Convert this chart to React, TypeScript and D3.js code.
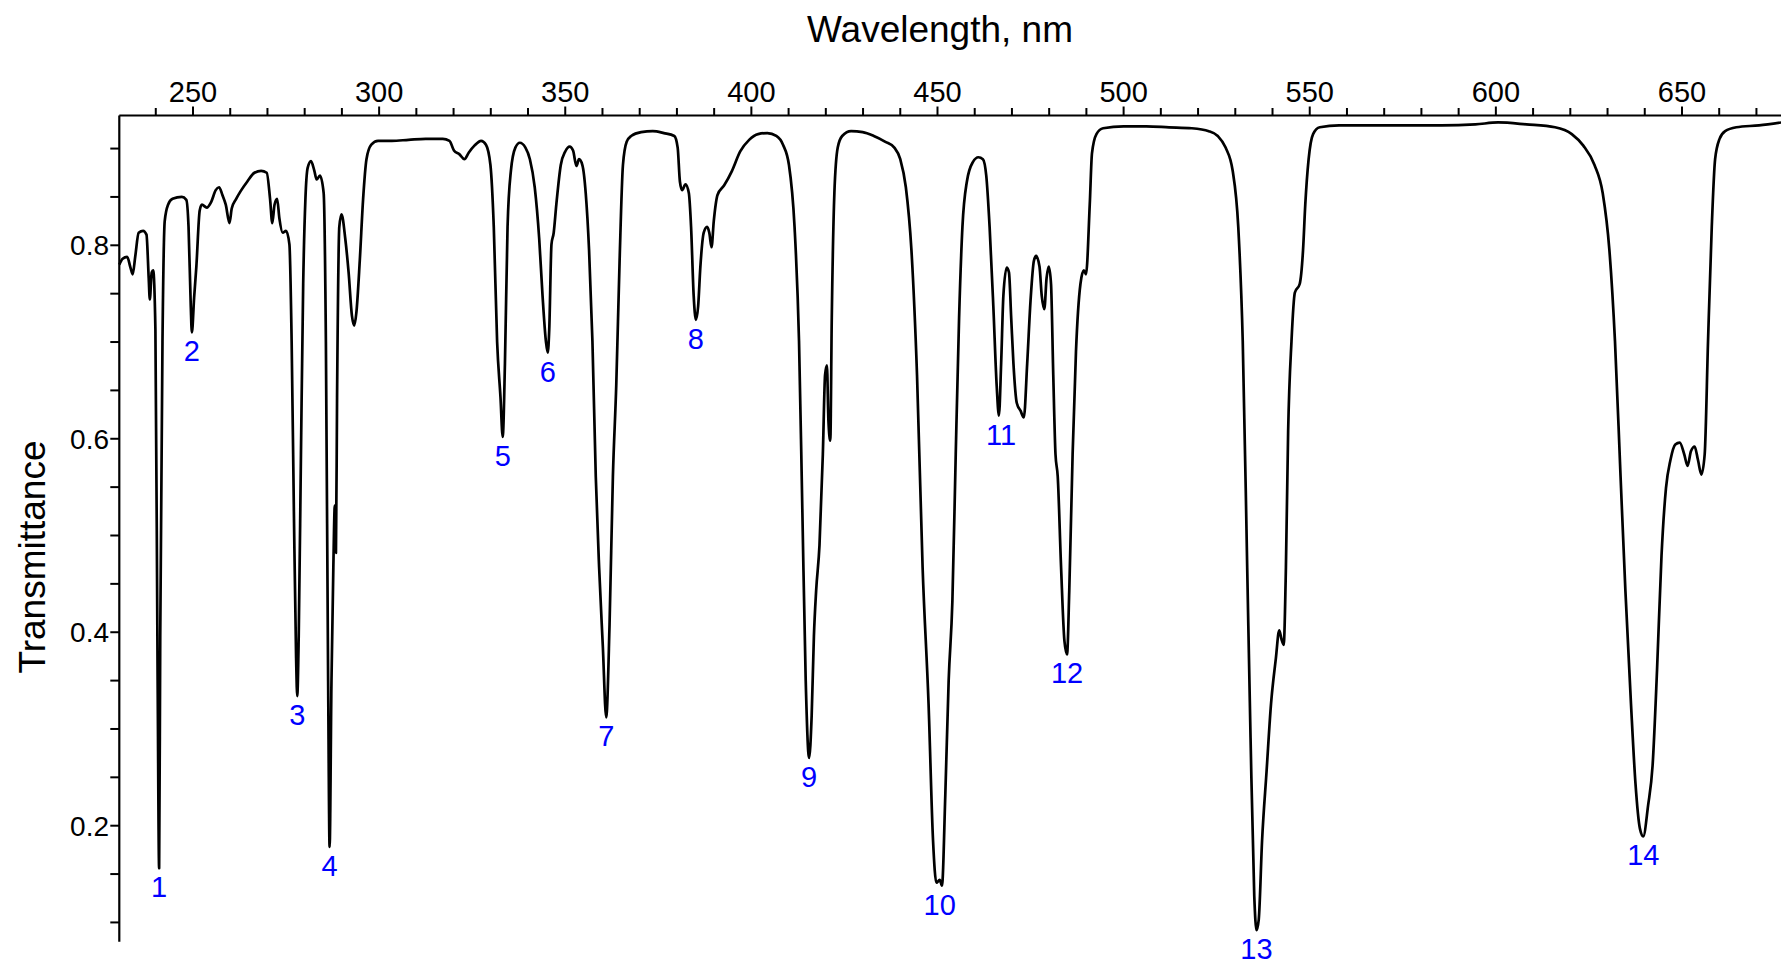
import React from "react";
import * as d3 from "d3";

const wavelength: number[] = [
  230.2, 231.1, 232.3, 233.2, 233.8, 234.5, 235.4, 236.6, 237.5, 238.1, 238.4, 238.9, 239.3, 239.9, 240.5, 240.9, 241.2, 241.8, 242.4, 243.3,
  244.5, 247.0, 248.2, 248.8, 249.4, 249.7, 250.3, 250.9, 251.8, 252.4, 253.7, 254.9, 256.1, 257.0, 257.9, 258.8, 259.8, 260.4, 261.6, 262.8,
  264.6, 266.5, 268.3, 269.8, 270.7, 271.3, 271.9, 272.6, 273.2, 274.1, 275.0, 275.9, 276.5, 277.1, 277.7, 278.0, 278.4, 279.0, 279.6, 280.2,
  280.8, 281.7, 282.6, 283.2, 284.1, 285.1, 285.7, 286.3, 286.7, 287.2, 287.7, 288.1, 288.4, 288.7, 289.3, 289.9, 290.9, 291.8, 292.7, 293.3,
  293.9, 294.8, 295.7, 296.6, 297.9, 299.7, 303.4, 307.9, 312.5, 317.1, 318.9, 320.1, 321.6, 322.9, 324.1, 325.6, 327.4, 328.7, 329.9, 330.8,
  331.7, 332.6, 333.2, 333.8, 334.5, 335.4, 336.6, 337.8, 339.3, 340.5, 341.8, 343.0, 343.9, 344.8, 345.3, 345.7, 346.3, 346.9, 347.6, 348.8,
  350.0, 351.2, 352.1, 353.0, 353.7, 354.6, 355.5, 356.4, 357.3, 358.2, 359.1, 360.1, 361.0, 361.9, 362.8, 363.7, 364.6, 365.5, 366.5, 367.7,
  370.4, 373.5, 376.5, 379.3, 380.2, 380.8, 381.4, 382.3, 383.2, 383.8, 384.5, 385.1, 385.7, 386.3, 387.2, 388.1, 388.7, 389.3, 389.9, 390.9,
  392.7, 394.8, 397.0, 399.4, 401.8, 404.3, 406.7, 408.5, 410.1, 411.6, 412.8, 413.7, 414.6, 415.5, 416.2, 416.8, 417.4, 418.3, 419.2, 419.8,
  420.3, 420.7, 421.2, 421.6, 422.3, 423.2, 424.4, 426.8, 429.9, 432.9, 436.0, 438.4, 440.0, 441.5, 443.0, 444.5, 446.0, 447.6, 448.8, 449.7,
  450.6, 451.2, 452.1, 453.0, 454.0, 454.9, 455.8, 456.7, 457.9, 459.5, 461.0, 462.2, 463.1, 464.0, 465.0, 465.9, 466.5, 467.1, 467.7, 468.6,
  469.2, 469.8, 470.4, 471.3, 472.3, 473.2, 474.1, 475.0, 475.9, 476.5, 477.4, 478.0, 478.7, 479.3, 479.9, 480.5, 481.1, 481.7, 482.3, 483.2,
  484.1, 484.8, 485.4, 486.3, 487.2, 488.4, 489.3, 489.9, 490.9, 491.5, 492.7, 494.5, 500.0, 506.1, 512.2, 518.3, 522.9, 525.3, 527.4, 529.3,
  530.8, 532.0, 533.2, 534.1, 535.1, 535.7, 536.3, 537.2, 538.4, 539.6, 540.9, 541.8, 542.4, 543.0, 543.6, 544.2, 545.1, 546.0, 547.3, 548.2,
  548.8, 549.7, 550.9, 552.7, 557.9, 567.1, 576.2, 585.4, 594.5, 600.6, 608.2, 615.9, 620.4, 623.5, 626.5, 628.7, 630.5, 632.0, 633.5, 634.8,
  636.3, 637.5, 638.7, 639.6, 640.9, 642.1, 643.3, 644.5, 645.7, 646.9, 648.2, 649.4, 650.6, 651.5, 652.4, 653.4, 654.3, 655.2, 656.1, 657.0,
  658.0, 658.9, 660.1, 661.6, 664.6, 670.7, 676.6,
];

const transmittance: number[] = [
  0.780, 0.786, 0.788, 0.777, 0.770, 0.789, 0.813, 0.815, 0.811, 0.766, 0.744, 0.772, 0.774, 0.713, 0.350, 0.156, 0.397, 0.700, 0.825, 0.842,
  0.848, 0.850, 0.847, 0.819, 0.737, 0.710, 0.746, 0.778, 0.836, 0.842, 0.839, 0.845, 0.857, 0.860, 0.852, 0.842, 0.823, 0.838, 0.848, 0.856,
  0.866, 0.875, 0.877, 0.875, 0.848, 0.823, 0.842, 0.848, 0.828, 0.813, 0.815, 0.801, 0.700, 0.525, 0.373, 0.334, 0.396, 0.584, 0.760, 0.848,
  0.880, 0.887, 0.877, 0.868, 0.872, 0.854, 0.700, 0.350, 0.178, 0.350, 0.467, 0.531, 0.482, 0.643, 0.819, 0.832, 0.807, 0.772, 0.727, 0.717,
  0.731, 0.784, 0.848, 0.889, 0.904, 0.908, 0.908, 0.909, 0.910, 0.910, 0.908, 0.898, 0.894, 0.889, 0.896, 0.903, 0.908, 0.904, 0.883, 0.819,
  0.700, 0.643, 0.602, 0.678, 0.819, 0.877, 0.901, 0.906, 0.901, 0.889, 0.860, 0.807, 0.748, 0.701, 0.689, 0.713, 0.801, 0.813, 0.842, 0.883,
  0.897, 0.902, 0.898, 0.882, 0.889, 0.883, 0.854, 0.795, 0.701, 0.561, 0.467, 0.385, 0.312, 0.408, 0.561, 0.655, 0.784, 0.883, 0.907, 0.913,
  0.917, 0.918, 0.916, 0.913, 0.901, 0.866, 0.857, 0.863, 0.854, 0.819, 0.748, 0.723, 0.737, 0.778, 0.813, 0.819, 0.813, 0.798, 0.825, 0.852,
  0.862, 0.877, 0.897, 0.909, 0.915, 0.916, 0.913, 0.904, 0.883, 0.819, 0.701, 0.525, 0.350, 0.270, 0.314, 0.396, 0.443, 0.490, 0.584, 0.666,
  0.676, 0.619, 0.598, 0.725, 0.854, 0.901, 0.913, 0.918, 0.917, 0.913, 0.907, 0.901, 0.889, 0.860, 0.795, 0.666, 0.467, 0.326, 0.185, 0.141,
  0.144, 0.138, 0.232, 0.350, 0.432, 0.584, 0.725, 0.819, 0.866, 0.886, 0.891, 0.889, 0.872, 0.819, 0.737, 0.655, 0.624, 0.678, 0.748, 0.777,
  0.772, 0.725, 0.678, 0.637, 0.629, 0.622, 0.678, 0.743, 0.784, 0.789, 0.778, 0.748, 0.734, 0.766, 0.778, 0.760, 0.666, 0.584, 0.561, 0.467,
  0.391, 0.377, 0.443, 0.584, 0.690, 0.760, 0.774, 0.770, 0.842, 0.895, 0.915, 0.921, 0.923, 0.923, 0.922, 0.921, 0.918, 0.913, 0.901, 0.877,
  0.819, 0.701, 0.467, 0.291, 0.127, 0.092, 0.103, 0.185, 0.256, 0.326, 0.373, 0.402, 0.393, 0.387, 0.467, 0.608, 0.701, 0.751, 0.760, 0.795,
  0.842, 0.889, 0.915, 0.922, 0.924, 0.924, 0.924, 0.924, 0.925, 0.927, 0.925, 0.922, 0.915, 0.903, 0.883, 0.854, 0.795, 0.701, 0.561, 0.443,
  0.326, 0.244, 0.197, 0.189, 0.221, 0.262, 0.361, 0.479, 0.549, 0.578, 0.594, 0.596, 0.584, 0.572, 0.587, 0.592, 0.578, 0.563, 0.584, 0.701,
  0.819, 0.889, 0.910, 0.918, 0.922, 0.924, 0.927,
];

const peakLabels: string[] = ["1", "2", "3", "4", "5", "6", "7", "8", "9", "10", "11", "12", "13", "14"];
const peakWavelength: number[] = [240.9, 249.7, 278.0, 286.7, 333.2, 345.3, 361.0, 385.1, 415.5, 450.6, 467.1, 484.8, 535.7, 639.6];
const peakTransmittance: number[] = [0.156, 0.710, 0.334, 0.178, 0.602, 0.689, 0.312, 0.723, 0.270, 0.138, 0.624, 0.377, 0.092, 0.189];

const xMajorTicks: number[] = [250, 300, 350, 400, 450, 500, 550, 600, 650];
const yMajorTicks: number[] = [0.2, 0.4, 0.6, 0.8];

const W = 1781;
const H = 965;
const FONT = "'Liberation Sans', Arial, Helvetica, sans-serif";

export default function App() {
  const left = 119.3;
  const top = 115.5;
  const x = d3.scaleLinear().domain([230.2, 676.6]).range([left, W]);
  const y = d3.scaleLinear().domain([0.2, 0.8]).range([825.7, 245.3]);
  const yBottom = 0.08;

  const pts: [number, number][] = wavelength.map((w, i) => [w, transmittance[i]]);
  const line = d3
    .line<[number, number]>()
    .x((d) => x(d[0]))
    .y((d) => y(d[1]))
    .curve(d3.curveMonotoneX);

  const xMinor = d3.range(240, 680, 10).filter((v) => v % 50 !== 0 && x(v) <= W);
  const yMinor = d3
    .range(0.1, 0.95, 0.05)
    .map((v) => +v.toFixed(2))
    .filter((v) => !yMajorTicks.some((m) => Math.abs(m - v) < 1e-6));

  return (
    <svg
      width={W}
      height={H}
      style={{ position: "absolute", left: 0, top: 0, background: "#fff" }}
      fontFamily={FONT}
    >
      <rect x={0} y={0} width={W} height={H} fill="#fff" />
      <text x={940} y={42} fontSize={37} textAnchor="middle" fill="#000">
        Wavelength, nm
      </text>
      <text transform={`translate(45, 557) rotate(-90)`} fontSize={37} textAnchor="middle" fill="#000">
        Transmittance
      </text>

      {/* top axis */}
      <line x1={left} x2={W} y1={top} y2={top} stroke="#000" strokeWidth={2.2} />
      {xMajorTicks.map((t) => (
        <g key={"xm" + t}>
          <line x1={x(t)} x2={x(t)} y1={top} y2={top - 9} stroke="#000" strokeWidth={2} />
          <text x={x(t)} y={101.5} fontSize={29} textAnchor="middle" fill="#000">
            {t}
          </text>
        </g>
      ))}
      {xMinor.map((t) => (
        <line key={"xn" + t} x1={x(t)} x2={x(t)} y1={top} y2={top - 7.5} stroke="#000" strokeWidth={2} />
      ))}

      {/* left axis */}
      <line x1={left} x2={left} y1={top} y2={y(yBottom)} stroke="#000" strokeWidth={2.2} />
      {yMajorTicks.map((t) => (
        <g key={"ym" + t}>
          <line x1={left} x2={left - 9} y1={y(t)} y2={y(t)} stroke="#000" strokeWidth={2} />
          <text x={109} y={y(t) + 10} fontSize={28} textAnchor="end" fill="#000">
            {t.toFixed(1)}
          </text>
        </g>
      ))}
      {yMinor.map((t) => (
        <line key={"yn" + t} x1={left} x2={left - 9} y1={y(t)} y2={y(t)} stroke="#000" strokeWidth={2} />
      ))}

      {/* spectrum */}
      <path d={line(pts) || ""} fill="none" stroke="#000" strokeWidth={2.7} strokeLinejoin="round" />

      {/* peak labels */}
      {peakLabels.map((lab, i) => (
        <text
          key={"p" + lab}
          x={x(peakWavelength[i])}
          y={Math.min(y(peakTransmittance[i]) + 29, H - 6)}
          fontSize={29}
          textAnchor="middle"
          fill="#0000ff"
        >
          {lab}
        </text>
      ))}
    </svg>
  );
}
